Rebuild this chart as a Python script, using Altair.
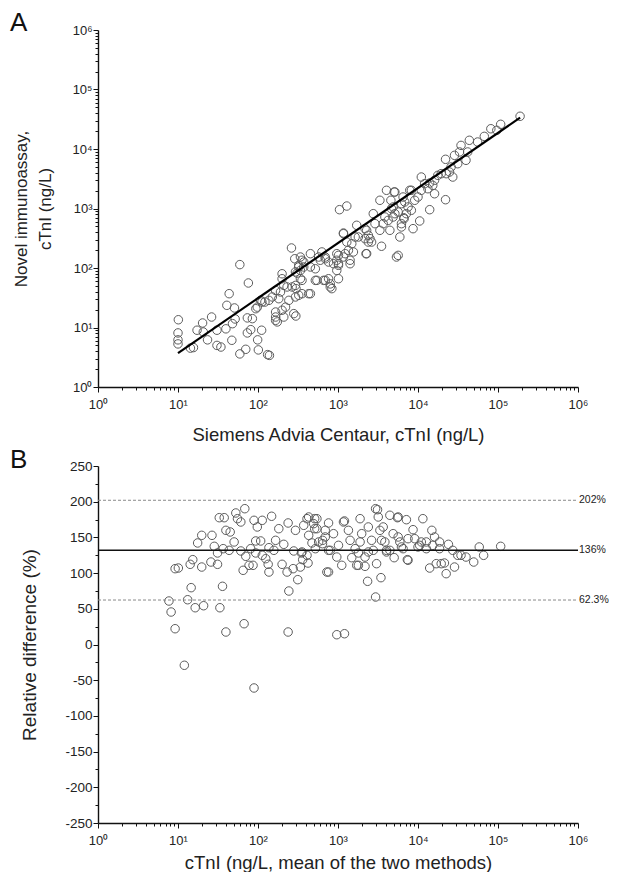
import altair as alt
import pandas as pd

FONT = "Liberation Sans"

# ---------------- Panel A data (Siemens vs novel assay, ng/L) ----------------
a_x = [10.1, 10, 10, 10, 14.3, 15.6, 17.3, 20.3, 20.7, 23.4, 26.3, 30.7, 34.4, 30.7, 39.7,
       43.6, 40.8, 50.8, 47.1, 48, 51.8, 59.3, 59.3, 70.3, 75.8, 73.6, 73.6, 81.2, 85, 99,
       101, 111, 132, 139, 98, 108, 122, 137, 166, 174, 166, 200, 210, 280, 297,
       151, 182, 200, 231, 243, 299, 308, 355, 262, 94, 112,
       1044, 1288, 339, 452, 323, 573, 693, 966, 1288, 1637, 1713, 1170, 2177, 2393, 2240,
       2760, 3500, 3340, 4037, 5035, 4580, 4450, 5930, 5650, 5380, 6210, 6640, 8260, 8670,
       7510, 9100, 6830, 5140, 3855, 4660, 2900, 1798, 1350, 1014, 966, 1014, 762, 838, 800,
       545, 693, 452, 355, 294, 294, 323, 166, 521, 601, 1170, 1416, 1558, 2393,
       188800, 108000, 81400, 96600, 67400, 55600, 43800, 34500, 33000, 28600, 41800, 22100,
       39800, 31400, 25900, 27200, 22500, 19500, 24800, 16100, 22100, 14000, 11000, 12100,
       14000, 15300, 7890, 10000, 11000, 10500, 5140, 6510, 6210, 4890, 8260, 7160, 16100,
       17700, 13300,
       1170, 2280, 3340, 2280, 430, 521, 661, 800, 1014, 879, 1014, 1228, 1416, 1486, 2177,
       2512, 2630, 3673, 4240, 4890, 6210, 6700, 5650, 339, 373, 452, 629, 693, 762, 966, 355,
       288, 323, 339, 267, 373, 200, 210, 191, 221, 166, 294]
a_y = [13.5, 8.1, 6.2, 5.3, 4.5, 4.6, 9.0, 11.9, 8.4, 6.2, 15.0, 5.0, 4.7, 9.0, 9.5,
       37, 23.6, 21.3, 6.1, 11.6, 13.9, 114, 3.6, 4.3, 56, 14.5, 8.1, 9.2, 14.1, 6.2,
       4.2, 9.0, 3.5, 3.4, 22, 28.6, 26.8, 28.6, 15.0, 12.4, 18.2, 19.5, 15.0, 17.1, 15.6,
       32.6, 30.5, 66, 48, 28.6, 45, 82, 62, 217, 20.7, 26.8,
       955, 1100, 153, 174, 111, 153, 153, 174, 273, 332, 522, 377, 458, 273, 174,
       818, 232, 1374, 2023, 1893, 1374, 430, 332, 163, 153, 489, 700, 2023, 458,
       1060, 1374, 1286, 818, 720, 993, 556, 332, 198, 118, 91, 66, 66, 45, 54,
       62, 62, 37, 37, 51, 86, 34.8, 13.2, 97, 135, 153, 118, 186, 355,
       35500, 26000, 21900, 20600, 16300, 13100, 14000, 11500, 8910, 7830, 8910, 6710,
       6460, 5660, 4980, 3380, 3850, 3850, 4100, 1770, 1406, 955, 3380, 2610,
       2680, 2450, 2023, 1560, 2023, 617, 1893, 1560, 1205, 1060, 933, 818, 2980,
       3610, 2150,
       387, 430, 430, 174, 37, 62, 62, 48, 111, 118, 163, 174, 135, 256, 311,
       311, 273, 556, 632, 720, 556, 674, 873, 91, 104, 104, 186, 143, 126, 135, 135,
       143, 104, 66, 48, 126, 80, 51, 39.5, 22, 42, 32.6]

# regression line end points
fit_x = [10, 189000]
fit_y = [3.7, 33600]

# ---------------- Panel B data (Bland-Altman, relative difference %) ----------------
b_x = [7.7, 8.2, 9.2, 9.2, 10.1, 12.0, 13.2, 14.6, 14.2, 15.3, 16.4, 17.6, 19.8, 19.8, 20.9,
       25.8, 26.6, 28.4, 31.2, 31.2, 32.8, 37.8, 33.4, 36, 39.7, 36.7, 39.7, 44.9, 43.6, 50.3,
       52.8, 55.4, 61, 68.4, 61, 65.2, 67, 70.3, 81, 77.3, 86.7, 89.2, 93.6, 89.2, 98,
       113, 108, 113, 125, 134, 137, 137, 148, 166, 182, 200, 210, 231, 238, 243, 238,
       275, 280, 294, 314, 339, 349, 362, 373, 410, 422, 430, 473, 496, 511, 545, 573,
       642, 693, 726,
       762, 640, 693, 762, 879, 800, 966, 1014, 1114, 1205, 1350, 1416, 966, 1205, 1486,
       1637, 1713, 1888, 1977, 1888, 2177, 2177, 2345, 2393, 2630, 2760, 2950, 3120, 3185,
       3035, 3340, 3500, 3443, 2950, 3673, 3855, 4040, 4450, 4890, 5035, 5530, 5650, 5930,
       6510, 7160, 7360, 7510, 8670, 9100, 10000, 11500, 11000, 12700, 12700, 14000, 14900,
       15300, 16100, 16900, 18600, 19500, 21400, 22500, 24000, 27200, 28600, 31400, 34500,
       39800, 49700, 58300, 66100, 108000,
       430, 545, 511, 1170, 5650, 410, 1798, 1798, 4040, 7510,
       93.6, 158, 355, 521, 762, 4450, 6210, 10500, 18600, 2393]
b_y = [60.9, 45.5, 22.1, 106.2, 107.1, -29.1, 62.7, 79.6, 112.3, 118.8, 51.5, 142.2, 152.9, 108.5, 54.3,
       115.5, 152.9, 137.5, 128.2, 112.3, 177.6, 177.6, 51.5, 81.5, 17.5, 134.2, 159.9, 157.6, 131.9, 143.6,
       184.2, 176.2, 171.6, 190.2, 131, 103.9, 29.1, 123.5, 134.2, 110.9, 110.9, 173.9, 145, -60.9, 164.6,
       173.9, 145, 124.9, 120.2, 112.3, 101.5, 135.6, 179.6, 145.9, 162.2, 112.3, 140.3, 101.5, 170.2, 74.9, 17.5,
       106.2, 131, 159.9, 90.8, 108.5, 128.2, 118.8, 166.9, 176.2, 114.1, 152.9, 142.2, 169.2, 176.2, 162.2, 143.6,
       145.9, 150.6, 101.5,
       101.5, 141.2, 159.9, 170.2, 155.2, 131.9, 122.5, 138.9, 110.9, 173, 159.9, 145.9, 13.7, 15.1, 121.6,
       134.2, 110.9, 176.2, 155.2, 143.6, 122.5, 109.5, 88.5, 164.6, 145.9, 131.9, 190.2, 188.8, 178.6,
       113.2, 159.9, 145.9, 93.6, 66.5, 164.6, 143.6, 129.6, 181, 155.2, 121.6, 177.6, 150.6, 143.6,
       134.2, 174.8, 118.8, 148.2, 160.8, 148.2, 136.6, 176.2, 143.6, 143.6, 134.2, 107.1, 159.9,
       138.9, 150.6, 113.2, 143.6, 113.2, 114.1, 99.2, 140.3, 131.9, 108.5, 124.9, 124.9,
       122.5, 115.5, 136.6, 124.9, 137.5,
       178.6, 176.2, 162.2, 171.6, 178.6, 124.9, 110.9, 128.2, 131.9, 118,
       128.2, 131.9, 129.6, 134.2, 131.9, 131.9, 136.6, 138.9, 134.2, 129.6]

# limits of agreement (line position) and their printed labels
loa_y = [202, 132.15, 62.3]
loa_label = ["202%", "136%", "62.3%"]
loa_kind = ["dash", "solid", "dash"]
line_x = [1, 1e6]

panel_letters = ["A", "B"]
sup_digits = ["⁰", "¹", "²", "³", "⁴", "⁵", "⁶"]

# axis tick positions
decades = [1, 10, 100, 1000, 10000, 100000, 1000000]
log_minor = [m * d for d in decades[:-1] for m in range(2, 10)]
b_major = [-250, -200, -150, -100, -50, 0, 50, 100, 150, 200, 250]
b_minor = [-225, -175, -125, -75, -25, 25, 75, 125, 175, 225]

W, H = 480, 357

sup_arr = "[" + ",".join("'" + s + "'" for s in sup_digits) + "]"
log_label_expr = f"'10' + {sup_arr}[round(log(datum.value)/LN10)]"

common_axis = dict(
    grid=False, domainColor="#111", domainWidth=1.4, tickColor="#111", tickWidth=1,
    labelColor="#222", labelFont=FONT, labelOverlap=False, labelFlush=False,
    titleFont=FONT, titleFontWeight="normal", titleColor="#222",
)


def major_log_axis(title, orient, **kw):
    d = dict(common_axis)
    d.update(kw)
    return alt.Axis(title=title, values=decades, labelExpr=log_label_expr, tickSize=5,
                    orient=orient, **d)


def minor_axis(values, orient):
    return alt.Axis(values=values, labels=False, domain=False, grid=False, title=None,
                    tickSize=3, tickColor="#111", tickWidth=1, orient=orient)


x_scale = alt.Scale(type="log", domain=[1, 1e6], nice=False)
pt_style = dict(shape="circle", filled=False, size=72, stroke="#5c5c5c", strokeWidth=1, opacity=1)

# ---------------- Panel A ----------------
df_a = pd.DataFrame({"x": a_x, "y": a_y})
df_fit = pd.DataFrame({"x": fit_x, "y": fit_y})
y_scale_a = alt.Scale(type="log", domain=[1, 1e6], nice=False)

pts_a = alt.Chart(df_a).mark_point(**pt_style).encode(
    x=alt.X("x:Q", scale=x_scale,
            axis=major_log_axis("Siemens Advia Centaur, cTnI (ng/L)", "bottom", labelFontSize=13,
                                labelPadding=6, titleFontSize=18.5, titlePadding=14)),
    y=alt.Y("y:Q", scale=y_scale_a,
            axis=major_log_axis(["Novel immunoassay,", "cTnI (ng/L)"], "left", labelFontSize=13,
                                labelPadding=1, titleFontSize=17, titlePadding=17,
                                titleLineHeight=24)),
)
fit_a = alt.Chart(df_fit).mark_line(color="black", strokeWidth=2.2).encode(
    x=alt.X("x:Q", scale=x_scale, axis=minor_axis(log_minor, "bottom")),
    y=alt.Y("y:Q", scale=y_scale_a, axis=minor_axis(log_minor, "left")),
)
letter_a = alt.Chart(pd.DataFrame({"t": [panel_letters[0]]})).mark_text(
    font=FONT, fontSize=26, align="left", baseline="top", color="#111"
).encode(text="t:N", x=alt.value(-88), y=alt.value(-20))

panel_a = alt.layer(pts_a, fit_a, letter_a).resolve_scale(
    x="independent", y="independent"
).properties(width=W, height=H)

# ---------------- Panel B ----------------
df_b = pd.DataFrame({"x": b_x, "y": b_y})
df_loa = pd.DataFrame({"y": loa_y, "label": loa_label, "kind": loa_kind,
                       "x0": [line_x[0]] * 3, "x1": [line_x[1]] * 3})
y_scale_b = alt.Scale(domain=[-250, 250], nice=False, zero=False)

b_y_axis = alt.Axis(
    title="Relative difference (%)", values=b_major, orient="left",
    labelExpr="'' + datum.value", tickSize=5, labelPadding=1,
    labelFontSize=13.5, titleFontSize=19, titlePadding=25, **common_axis,
)

pts_b = alt.Chart(df_b).mark_point(**pt_style).encode(
    x=alt.X("x:Q", scale=x_scale,
            axis=major_log_axis("cTnI (ng/L, mean of the two methods)", "bottom", labelFontSize=13,
                                labelPadding=6, titleFontSize=18.5, titlePadding=6)),
    y=alt.Y("y:Q", scale=y_scale_b, axis=b_y_axis),
)
dash_b = alt.Chart(df_loa).transform_filter("datum.kind == 'dash'").mark_rule(
    color="#8a8a8a", strokeWidth=1, strokeDash=[3, 2]
).encode(
    x=alt.X("x0:Q", scale=x_scale, axis=minor_axis(log_minor, "bottom")),
    x2="x1:Q",
    y=alt.Y("y:Q", scale=y_scale_b, axis=minor_axis(b_minor, "left")),
)
solid_b = alt.Chart(df_loa).transform_filter("datum.kind == 'solid'").mark_rule(
    color="#111", strokeWidth=1.5
).encode(
    x=alt.X("x0:Q", scale=x_scale, axis=None), x2="x1:Q",
    y=alt.Y("y:Q", scale=y_scale_b, axis=None),
)
lab_b = alt.Chart(df_loa).mark_text(
    font=FONT, fontSize=10.5, align="left", baseline="middle", dx=1, color="#222"
).encode(
    x=alt.X("x1:Q", scale=x_scale, axis=None),
    y=alt.Y("y:Q", scale=y_scale_b, axis=None),
    text="label:N",
)
letter_b = alt.Chart(pd.DataFrame({"t": [panel_letters[1]]})).mark_text(
    font=FONT, fontSize=26, align="left", baseline="top", color="#111"
).encode(text="t:N", x=alt.value(-88), y=alt.value(-19))

panel_b = alt.layer(pts_b, dash_b, solid_b, lab_b, letter_b).resolve_scale(
    x="independent", y="independent"
).properties(width=W, height=H)

chart = alt.vconcat(panel_a, panel_b, spacing=79, bounds="flush").properties(
    padding={"left": 2, "top": 2, "right": 0, "bottom": 0}, background="white"
).configure_view(stroke=None)

chart.save("out.html", embed_options={"renderer": "svg", "actions": False})
